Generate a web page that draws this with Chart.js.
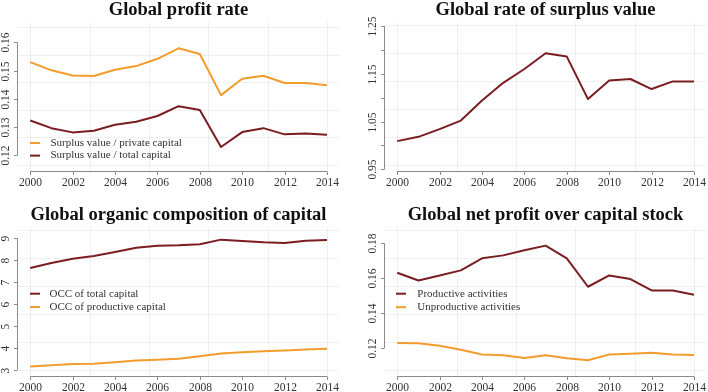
<!DOCTYPE html>
<html>
<head>
<meta charset="utf-8">
<script src="https://cdn.jsdelivr.net/npm/chart.js@4.4.0/dist/chart.umd.min.js"></script>
<style>
  html, body { margin: 0; padding: 0; background: #fff; }
  body { width: 708px; height: 392px; position: relative; overflow: hidden; }
  .panel { position: absolute; width: 354px; height: 196px; }
</style>
</head>
<body>
<div class="panel" style="left:0;top:0"><canvas id="c1" width="354" height="196"></canvas></div>
<div class="panel" style="left:367px;top:0"><canvas id="c2" width="354" height="196"></canvas></div>
<div class="panel" style="left:0;top:205px"><canvas id="c3" width="354" height="196"></canvas></div>
<div class="panel" style="left:367px;top:205px"><canvas id="c4" width="354" height="196"></canvas></div>
<script>
// data
const years = [2000, 2001, 2002, 2003, 2004, 2005, 2006, 2007, 2008, 2009, 2010, 2011, 2012, 2013, 2014];

const profitPrivate = [0.1530, 0.1501, 0.1483, 0.1481, 0.1503, 0.1516, 0.1542, 0.1579, 0.1559, 0.1413, 0.1471, 0.1482, 0.1456, 0.1456, 0.1448];
const profitTotal   = [0.1323, 0.1296, 0.1281, 0.1287, 0.1308, 0.1319, 0.1339, 0.1374, 0.1360, 0.1229, 0.1282, 0.1296, 0.1274, 0.1277, 0.1273];

const surplusRate = [1.009, 1.018, 1.034, 1.052, 1.094, 1.131, 1.160, 1.193, 1.186, 1.097, 1.136, 1.139, 1.118, 1.134, 1.134];

const occTotal      = [7.64, 7.87, 8.07, 8.19, 8.37, 8.57, 8.66, 8.68, 8.73, 8.94, 8.88, 8.82, 8.79, 8.89, 8.92];
const occProductive = [3.14, 3.20, 3.26, 3.27, 3.34, 3.41, 3.45, 3.49, 3.61, 3.73, 3.79, 3.84, 3.87, 3.92, 3.95];

const netProductive   = [0.1631, 0.1587, 0.1616, 0.1645, 0.1714, 0.1731, 0.1760, 0.1787, 0.1714, 0.1551, 0.1616, 0.1595, 0.1530, 0.1530, 0.1505];
const netUnproductive = [0.1229, 0.1227, 0.1212, 0.1190, 0.1162, 0.1158, 0.1142, 0.1158, 0.1141, 0.1129, 0.1162, 0.1167, 0.1173, 0.1162, 0.1160];

const xTicks = [2000, 2002, 2004, 2006, 2008, 2010, 2012, 2014];
const xGrid = [2000, 2002.8, 2005.6, 2008.4, 2011.2, 2014];

const yTicks1 = [0.12, 0.13, 0.14, 0.15, 0.16];
const yLabels1 = ['0.12', '0.13', '0.14', '0.15', '0.16'];
const yGrid1 = [0.1655, 0.1557, 0.1459, 0.1361, 0.1263, 0.1165];

const yTicks2 = [0.95, 1.00, 1.05, 1.10, 1.15, 1.20, 1.25];
const yLabels2 = ['0.95', '', '1.05', '', '1.15', '', '1.25'];
const yGrid2 = [1.2521, 1.1935, 1.1349, 1.0763, 1.0176, 0.959];

const yTicks3 = [3, 4, 5, 6, 7, 8, 9];
const yLabels3 = ['3', '4', '5', '6', '7', '8', '9'];
const yGrid3 = [9.394, 8.111, 6.829, 5.547, 4.264, 2.982];

const yTicks4 = [0.12, 0.14, 0.16, 0.18];
const yLabels4 = ['0.12', '0.14', '0.16', '0.18'];
const yGrid4 = [0.1878, 0.1717, 0.1556, 0.1395, 0.1235, 0.1074];

const ORANGE = '#f39c2c';
const DARKRED = '#7a1d22';
const SERIF = '"Liberation Serif", "DejaVu Serif", serif';

// R-style axes, grid and legend drawn from the chart's scales
const rStyle = {
    id: 'rStyle',
    beforeDatasetsDraw(chart, args, opts) {
        const ctx = chart.ctx;
        const xs = chart.scales.x, ys = chart.scales.y;
        const a = chart.chartArea;
        ctx.save();
        ctx.strokeStyle = 'rgba(0,0,0,0.06)';
        ctx.lineWidth = 1;
        opts.xGrid.forEach(v => {
            const px = Math.round(xs.getPixelForValue(v)) + 0.5;
            ctx.beginPath(); ctx.moveTo(px, a.top); ctx.lineTo(px, a.bottom); ctx.stroke();
        });
        opts.yGrid.forEach(v => {
            const py = Math.round(ys.getPixelForValue(v)) + 0.5;
            ctx.beginPath(); ctx.moveTo(a.left, py); ctx.lineTo(a.right, py); ctx.stroke();
        });
        ctx.restore();
    },
    afterDraw(chart, args, opts) {
        const ctx = chart.ctx;
        const xs = chart.scales.x, ys = chart.scales.y;
        const a = chart.chartArea;
        ctx.save();
        ctx.strokeStyle = '#8a8a8a';
        ctx.lineWidth = 1;
        ctx.fillStyle = '#333';
        ctx.font = '11.5px ' + SERIF;

        // x axis
        const yb = Math.round(a.bottom) + 0.5;
        const x0 = xs.getPixelForValue(opts.xTicks[0]);
        const x1 = xs.getPixelForValue(opts.xTicks[opts.xTicks.length - 1]);
        ctx.beginPath(); ctx.moveTo(x0, yb); ctx.lineTo(x1, yb); ctx.stroke();
        ctx.textAlign = 'center';
        ctx.textBaseline = 'middle';
        opts.xTicks.forEach(v => {
            const px = Math.round(xs.getPixelForValue(v)) + 0.5;
            ctx.beginPath(); ctx.moveTo(px, yb); ctx.lineTo(px, yb + 3.5); ctx.stroke();
            ctx.fillText(String(v), px, a.bottom + 12);
        });

        // y axis
        const xl = Math.round(a.left) + 0.5;
        const y0 = ys.getPixelForValue(opts.yTicks[0]);
        const y1 = ys.getPixelForValue(opts.yTicks[opts.yTicks.length - 1]);
        ctx.beginPath(); ctx.moveTo(xl, y0); ctx.lineTo(xl, y1); ctx.stroke();
        opts.yTicks.forEach((v, i) => {
            const py = Math.round(ys.getPixelForValue(v)) + 0.5;
            ctx.beginPath(); ctx.moveTo(xl, py); ctx.lineTo(xl - 3.5, py); ctx.stroke();
            const lab = opts.yLabels[i];
            if (!lab) return;
            ctx.save();
            ctx.translate(a.left - 11.5, py);
            ctx.rotate(-Math.PI / 2);
            ctx.fillText(lab, 0, 0);
            ctx.restore();
        });

        // legend
        const lg = opts.legend;
        ctx.textAlign = 'left';
        ctx.font = '11px ' + SERIF;
        lg.order.forEach((di, row) => {
            const ds = chart.data.datasets[di];
            const ly = lg.y + row * lg.step;
            ctx.strokeStyle = ds.borderColor;
            ctx.lineWidth = 2;
            ctx.beginPath(); ctx.moveTo(lg.x, ly); ctx.lineTo(lg.x + 10, ly); ctx.stroke();
            ctx.fillText(ds.label, lg.textX, ly);
        });
        ctx.restore();
    }
};

function makeChart(id, title, series, yMin, yMax, yTicks, yLabels, yGrid, legend) {
    const ctx = document.getElementById(id);
    if (!ctx) return;

    new Chart(ctx, {
        type: 'line',
        data: {
            datasets: series.map(s => ({
                label: s.label,
                data: years.map((yr, i) => ({ x: yr, y: s.values[i] })),
                borderColor: s.color,
                borderWidth: 2,
                pointRadius: 0,
                tension: 0,
                fill: false,
                borderJoinStyle: 'round'
            }))
        },
        options: {
            responsive: false,
            animation: false,
            layout: {
                padding: { left: 17.3, right: 14.3, top: 0, bottom: 24.7 }
            },
            scales: {
                x: { type: 'linear', display: false, min: 1999.39, max: 2014.6 },
                y: { type: 'linear', display: false, min: yMin, max: yMax }
            },
            plugins: {
                legend: { display: false },
                tooltip: { enabled: false },
                title: {
                    display: true,
                    text: title,
                    fullSize: false,
                    color: '#111',
                    font: { family: SERIF, size: 18.5, weight: 'bold', lineHeight: 0.9 },
                    padding: { top: 1.5, bottom: 3.85 }
                },
                rStyle: { xTicks, xGrid, yTicks, yLabels, yGrid, legend }
            }
        },
        plugins: [rStyle]
    });
}

makeChart('c1', 'Global profit rate', [
    { label: 'Surplus value / private capital', values: profitPrivate, color: ORANGE },
    { label: 'Surplus value / total capital', values: profitTotal, color: DARKRED }
], 0.11430, 0.16724, yTicks1, yLabels1, yGrid1, { order: [0, 1], x: 30, textX: 50.5, y: 143, step: 12.6 });

makeChart('c2', 'Global rate of surplus value', [
    { label: 'Rate of surplus value', values: surplusRate, color: DARKRED }
], 0.9458, 1.2584, yTicks2, yLabels2, yGrid2, { order: [], x: 0, textX: 0, y: 0, step: 0 });

makeChart('c3', 'Global organic composition of capital', [
    { label: 'OCC of total capital', values: occTotal, color: DARKRED },
    { label: 'OCC of productive capital', values: occProductive, color: ORANGE }
], 2.693, 9.5176, yTicks3, yLabels3, yGrid3, { order: [0, 1], x: 30, textX: 49.5, y: 88.7, step: 13.3 });

makeChart('c4', 'Global net profit over capital stock', [
    { label: 'Productive activities', values: netProductive, color: DARKRED },
    { label: 'Unproductive activities', values: netUnproductive, color: ORANGE }
], 0.10374, 0.18937, yTicks4, yLabels4, yGrid4, { order: [0, 1], x: 29, textX: 50.3, y: 88.7, step: 13.5 });
</script>
</body>
</html>
